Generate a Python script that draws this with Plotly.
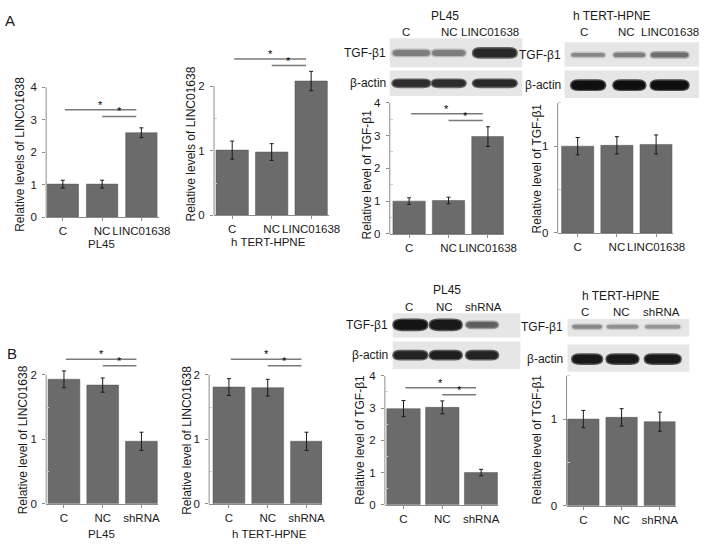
import plotly.graph_objects as go

W, H = 716, 549

# ---- data ----
groups_a = ["C", "NC", "LINC01638"]
groups_b = ["C", "NC", "shRNA"]

a_pl45_linc = [1.02, 1.02, 2.60]
a_pl45_linc_err = [0.12, 0.12, 0.15]
a_hpne_linc = [1.01, 0.98, 2.08]
a_hpne_linc_err = [0.14, 0.13, 0.15]
a_pl45_tgf = [1.00, 1.02, 2.97]
a_pl45_tgf_err = [0.10, 0.10, 0.30]
a_hpne_tgf = [1.00, 1.01, 1.02]
a_hpne_tgf_err = [0.10, 0.10, 0.11]

b_pl45_linc = [1.93, 1.84, 0.97]
b_pl45_linc_err = [0.13, 0.11, 0.14]
b_hpne_linc = [1.81, 1.80, 0.97]
b_hpne_linc_err = [0.13, 0.13, 0.14]
b_pl45_tgf = [2.98, 3.02, 1.00]
b_pl45_tgf_err = [0.25, 0.20, 0.10]
b_hpne_tgf = [1.00, 1.02, 0.97]
b_hpne_tgf_err = [0.10, 0.10, 0.11]

# band darkness (0 = black, 255 = white) for the western blots
a_pl45_tgf_band = [125, 125, 40]
a_pl45_actin_band = [45, 45, 40]
a_hpne_tgf_band = [135, 125, 110]
a_hpne_actin_band = [15, 15, 15]
b_pl45_tgf_band = [20, 25, 95]
b_pl45_actin_band = [35, 30, 35]
b_hpne_tgf_band = [135, 145, 150]
b_hpne_actin_band = [25, 25, 25]

FONT = "Liberation Sans, Arial, sans-serif"
BAR = "#6b6b6b"
AXIS = "#8c8c8c"


def fx(p):
    return p / W


def fy(p):
    return 1 - p / H


# axis geometry: xpx = x axis span, y0 = pixel row of value 0, ytop = pixel row of axtop
panels = [
    dict(cats=groups_a, vals=a_pl45_linc, errs=a_pl45_linc_err, xpx=(47, 162), y0=216, ytop=83,
         xr=(-0.425, 2.45), axtop=4, ymax=4, minor=False, wid=0.8, title="Relative levels of LINC01638",
         tpos=(20.5, 152), sig=(3.31, 3.10), cell="PL45", cpos=(103, 243)),
    dict(cats=groups_a, vals=a_hpne_linc, errs=a_hpne_linc_err, xpx=(218, 335), y0=214, ytop=82,
         xr=(-0.46, 2.45), axtop=2, ymax=2.5, minor=True, wid=0.82, title="Relative levels of LINC01638",
         tpos=(194, 141), sig=(2.42, 2.32), cell="h TERT-HPNE", cpos=(273, 241)),
    dict(cats=groups_a, vals=a_pl45_tgf, errs=a_pl45_tgf_err, xpx=(397, 513), y0=233, ytop=99,
         xr=(-0.49, 2.4), axtop=4, ymax=4, minor=True, wid=0.82, title="Relative level of TGF-β1",
         tpos=(374, 172), sig=(3.67, 3.46), cell=None, cpos=None),
    dict(cats=groups_a, vals=a_hpne_tgf, errs=a_hpne_tgf_err, xpx=(568, 685), y0=232, ytop=99,
         xr=(-0.51, 2.42), axtop=1.5, ymax=1.5, minor=True, wid=0.82, title="Relative level of TGF-β1",
         tpos=(547, 166), sig=None, cell=None, cpos=None),
    dict(cats=groups_b, vals=b_pl45_linc, errs=b_pl45_linc_err, xpx=(47, 161), y0=509, ytop=377,
         xr=(-0.46, 2.43), axtop=2, ymax=2.3, minor=True, wid=0.82, title="Relative level of LINC01638",
         tpos=(23.5, 444), sig=(2.24, 2.14), cell="PL45", cpos=(103, 540)),
    dict(cats=groups_b, vals=b_hpne_linc, errs=b_hpne_linc_err, xpx=(213, 328), y0=509, ytop=377,
         xr=(-0.51, 2.4), axtop=2, ymax=2.3, minor=True, wid=0.82, title="Relative level of LINC01638",
         tpos=(191, 444), sig=(2.24, 2.14), cell="h TERT-HPNE", cpos=(274, 540)),
    dict(cats=groups_b, vals=b_pl45_tgf, errs=b_pl45_tgf_err, xpx=(392, 507), y0=510, ytop=378,
         xr=(-0.48, 2.43), axtop=4, ymax=4, minor=True, wid=0.86, title="Relative level of TGF-β1",
         tpos=(367, 443), sig=(3.63, 3.41), cell=None, cpos=None),
    dict(cats=groups_b, vals=b_hpne_tgf, errs=b_hpne_tgf_err, xpx=(577, 688), y0=511, ytop=378,
         xr=(-0.44, 2.41), axtop=1.5, ymax=1.5, minor=True, wid=0.82, title="Relative level of TGF-β1",
         tpos=(547, 443), sig=None, cell=None, cpos=None),
]

blots = [
    dict(cell="PL45", cellpos=(453, 10), cats=groups_a, laney=27, lanex=[413, 458, 499],
         box=(397, 532), tbox=(33, 63), ty=48, abox=(66, 92), ay=79,
         bx=[419, 457, 504], bw=[19, 17, 22], tth=[3, 3, 4.5], ath=[3.5, 3.5, 3.5],
         tgf=a_pl45_tgf_band, actin=a_pl45_actin_band, lab=395),
    dict(cell="h TERT-HPNE", cellpos=(623, 10), cats=groups_a, laney=27, lanex=[595, 638, 682],
         box=(575, 712), tbox=(37, 62), ty=50, abox=(66, 94), ay=81,
         bx=[599, 641, 682], bw=[17, 16, 19], tth=[2, 2.2, 2.5], ath=[4.5, 4.5, 4.5],
         tgf=a_hpne_tgf_band, actin=a_hpne_actin_band, lab=573),
    dict(cell="PL45", cellpos=(455, 290), cats=groups_b, laney=308, lanex=[417, 453, 492],
         box=(400, 530), tbox=(314, 339), ty=326, abox=(343, 371), ay=357,
         bx=[418, 454, 491], bw=[17, 16, 16], tth=[5, 5, 3], ath=[4, 4, 4],
         tgf=b_pl45_tgf_band, actin=b_pl45_actin_band, lab=397),
    dict(cell="h TERT-HPNE", cellpos=(632, 296), cats=groups_b, laney=313, lanex=[596, 633, 674],
         box=(578, 702), tbox=(320, 338), ty=328, abox=(346, 374), ay=361,
         bx=[598, 634, 675], bw=[15, 16, 18], tth=[2, 2, 2], ath=[4.5, 4.5, 4.5],
         tgf=b_hpne_tgf_band, actin=b_hpne_actin_band, lab=575),
]

fig = go.Figure()
shapes = []
annots = []


def txt(x, y, s, size=11.5, xanchor="center", angle=0):
    annots.append(dict(x=fx(x), y=fy(y), xref="paper", yref="paper", text=s, showarrow=False,
                       xanchor=xanchor, yanchor="middle", textangle=angle,
                       font=dict(family=FONT, size=size, color="#1a1a1a")))


for i, p in enumerate(panels, start=1):
    sx = "" if i == 1 else str(i)
    unit = (p["y0"] - p["ytop"]) / p["axtop"]
    dom_top = p["y0"] - unit * p["ymax"]
    fig.add_trace(go.Bar(
        x=p["cats"], y=p["vals"], width=p["wid"],
        error_y=dict(type="data", array=p["errs"], color="#1a1a1a", thickness=1, width=2),
        marker=dict(color=BAR, line=dict(color="#555555", width=0.5)),
        xaxis="x" + sx, yaxis="y" + sx, showlegend=False, hoverinfo="skip",
    ))
    minor_vals = [v / 2 for v in range(1, 9) if v % 2 and v / 2 <= p["axtop"]]
    fig.update_layout(**{
        "xaxis" + sx: dict(
            domain=[fx(p["xpx"][0]), fx(p["xpx"][1])], range=list(p["xr"]), anchor="y" + sx,
            type="category", categoryarray=p["cats"], showline=True, linecolor=AXIS, linewidth=1,
            ticks="outside", ticklen=3, tickcolor=AXIS, showgrid=False, zeroline=False, tickangle=0,
            tickfont=dict(family=FONT, size=11.5, color="#1a1a1a"), fixedrange=True),
        "yaxis" + sx: dict(
            domain=[fy(p["y0"]), fy(dom_top)], range=[0, p["ymax"]], anchor="x" + sx,
            tickvals=[v for v in [0, 1, 2, 3, 4] if v <= p["axtop"]],
            showline=False, ticks="outside", ticklen=3, tickcolor=AXIS,
            showgrid=False, zeroline=False, ticklabelstandoff=3,
            minor=dict(tickvals=minor_vals, ticks="inside", ticklen=3, tickcolor="#cfcfcf") if p["minor"] else None,
            tickfont=dict(family=FONT, size=11.5, color="#1a1a1a"), fixedrange=True),
    })
    # y axis line stops at the top tick, like the original
    shapes.append(dict(type="line", xref="x" + sx + " domain", yref="y" + sx, x0=0, x1=0,
                       y0=0, y1=p["axtop"], line=dict(color=AXIS, width=1)))
    txt(p["tpos"][0], p["tpos"][1], p["title"], size=12, angle=-90)
    if p["cell"]:
        txt(p["cpos"][0], p["cpos"][1], p["cell"], size=11.5)
    if p["sig"]:
        for lvl, x0 in zip(p["sig"], [0.05, 1.0]):
            shapes.append(dict(type="line", xref="x" + sx, yref="y" + sx,
                               x0=x0, x1=1.87, y0=lvl, y1=lvl, line=dict(color="#7a7a7a", width=1.5)))
            annots.append(dict(x=(x0 + 1.87) / 2, y=lvl, xref="x" + sx, yref="y" + sx,
                               text="*", showarrow=False, yanchor="bottom", yshift=-3,
                               font=dict(family=FONT, size=11, color="#000000")))


def band(cx, cy, hw, th, g):
    x0, x1 = fx(cx - hw), fx(cx + hw)
    r = fx(cx - hw + th * 1.6) - x0
    yt, yb, ym = fy(cy - th), fy(cy + th), fy(cy)
    path = (f"M {x0 + r},{yt} L {x1 - r},{yt} Q {x1},{yt} {x1},{ym} Q {x1},{yb} {x1 - r},{yb} "
            f"L {x0 + r},{yb} Q {x0},{yb} {x0},{ym} Q {x0},{yt} {x0 + r},{yt} Z")
    return dict(type="path", xref="paper", yref="paper", path=path,
                fillcolor=f"rgb({g},{g},{g})", line=dict(width=0))


for b in blots:
    txt(b["cellpos"][0], b["cellpos"][1], b["cell"], size=12)
    for lx, c in zip(b["lanex"], b["cats"]):
        txt(lx, b["laney"], c, size=11.5)
    for (ya, yb2) in [b["tbox"], b["abox"]]:
        shapes.append(dict(type="rect", xref="paper", yref="paper", x0=fx(b["box"][0]), x1=fx(b["box"][1]),
                           y0=fy(yb2), y1=fy(ya), fillcolor="#e6e6e6", line=dict(width=0)))
    for cx, hw, t1, t2, g1, g2 in zip(b["bx"], b["bw"], b["tth"], b["ath"], b["tgf"], b["actin"]):
        # soft halo then the band core
        shapes.append(band(cx, b["ty"], hw + 1.5, t1 + 1.5, min(215, g1 + 60)))
        shapes.append(band(cx, b["ty"], hw, t1, g1))
        shapes.append(band(cx, b["ay"], hw + 1.5, t2 + 1.5, min(215, g2 + 60)))
        shapes.append(band(cx, b["ay"], hw, t2, g2))
    txt(b["lab"], b["ty"], "TGF-β1", size=12, xanchor="right")
    txt(b["lab"], b["ay"], "β-actin", size=12, xanchor="right")

txt(10.5, 15, "A", size=15)
txt(12, 355, "B", size=15)

fig.update_layout(
    width=W, height=H, margin=dict(l=0, r=0, t=0, b=0),
    paper_bgcolor="white", plot_bgcolor="white",
    shapes=shapes, annotations=annots, showlegend=False,
)
fig.write_html("out.html", config={"displayModeBar": False},
               post_script="document.body.style.margin='0';")
